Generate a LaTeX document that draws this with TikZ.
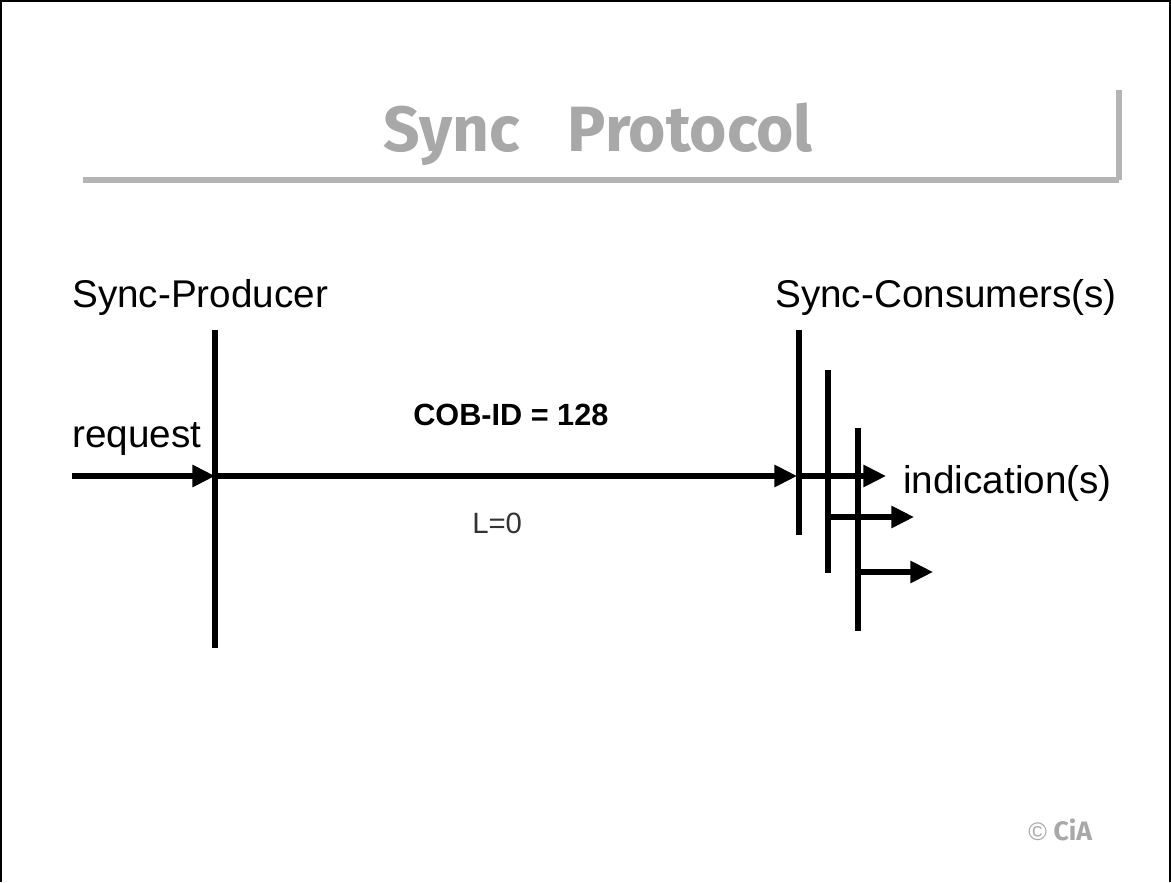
\documentclass[tikz,border=0pt]{standalone}
\usepackage{fontspec}
\setmainfont{Liberation Sans}
\newfontfamily\titlefont{Fira Sans}
\usetikzlibrary{arrows.meta}
\definecolor{titlegray}{HTML}{A8A8A8}
\definecolor{bargray}{HTML}{B4B4B4}
\begin{document}
\begin{tikzpicture}[x=0.75pt, y=-0.75pt,
    label/.style={inner sep=0pt, anchor=base west, font=\fontsize{29}{34}\selectfont},
    small/.style={inner sep=0pt, anchor=base west, font=\fontsize{22}{26}\selectfont},
    timeline/.style={line width=3.8pt},
    msg/.style={line width=3.8pt, -{Triangle[length=17pt, width=16pt]}},
    bar/.style={bargray, line width=5pt}
  ]
  \useasboundingbox (0,0) rectangle (1171,882);
  % frame
  \draw[line width=1.5pt] (1,882) -- (1,1) -- (1170,1) -- (1170,882);

  % title
  \node[inner sep=0pt, anchor=base west, text=titlegray,
        font=\titlefont\bfseries\fontsize{48}{52}\selectfont]
    (title) at (383,151) {Sync\hspace{0.75em}Protocol};
  \coordinate (barl) at (83,180);
  \coordinate (barr) at (1119,180);
  \coordinate (bart) at (1119,90);
  \draw[bar] (barl) -- (barr);
  \draw[bar, line width=3.8pt] (bart) -- (barr);

  % producer side
  \node[label] (prod) at (72,307) {Sync-Producer};
  \node[label] (req) at (72,447) {request};
  \coordinate (ptop) at (215,330);
  \coordinate (pbot) at (215,648);
  \coordinate (pmid) at (215,476);
  \coordinate (rin) at (72,476);
  \draw[timeline] (ptop) -- (pbot);
  \draw[msg] (rin) -- (pmid);

  % the message
  \coordinate (c1mid) at (797,476);
  \draw[msg] (pmid) -- (c1mid);
  \node[small, font=\bfseries\fontsize{23}{27}\selectfont] (cobid) at (413,425) {COB-ID = 128};
  \node[small, text=black!80] (len) at (472,533) {L=0};

  % consumer side
  \node[label] (cons) at (775,307) {Sync-Consumers(s)};
  \coordinate (c1top) at (799,330);
  \coordinate (c1bot) at (799,535);
  \coordinate (c2top) at (828,370);
  \coordinate (c2bot) at (828,573);
  \coordinate (c3top) at (858,428);
  \coordinate (c3bot) at (858,631);
  \draw[timeline] (c1top) -- (c1bot);
  \draw[timeline] (c2top) -- (c2bot);
  \draw[timeline] (c3top) -- (c3bot);
  \coordinate (o1s) at (799,476);
  \coordinate (o1e) at (886,476);
  \coordinate (o2s) at (828,517);
  \coordinate (o2e) at (914,517);
  \coordinate (o3s) at (858,572);
  \coordinate (o3e) at (933,572);
  \draw[msg] (o1s) -- (o1e);
  \draw[msg] (o2s) -- (o2e);
  \draw[msg] (o3s) -- (o3e);
  \node[label] (ind) at (903,493) {indication(s)};

  % copyright
  \node[inner sep=0pt, anchor=base west, text=titlegray] (copy) at (1028,840)
    {{\fontsize{19}{22}\selectfont\textcopyright}\hspace{5pt}{\titlefont\bfseries\fontsize{20}{24}\selectfont CiA}};
\end{tikzpicture}
\end{document}
